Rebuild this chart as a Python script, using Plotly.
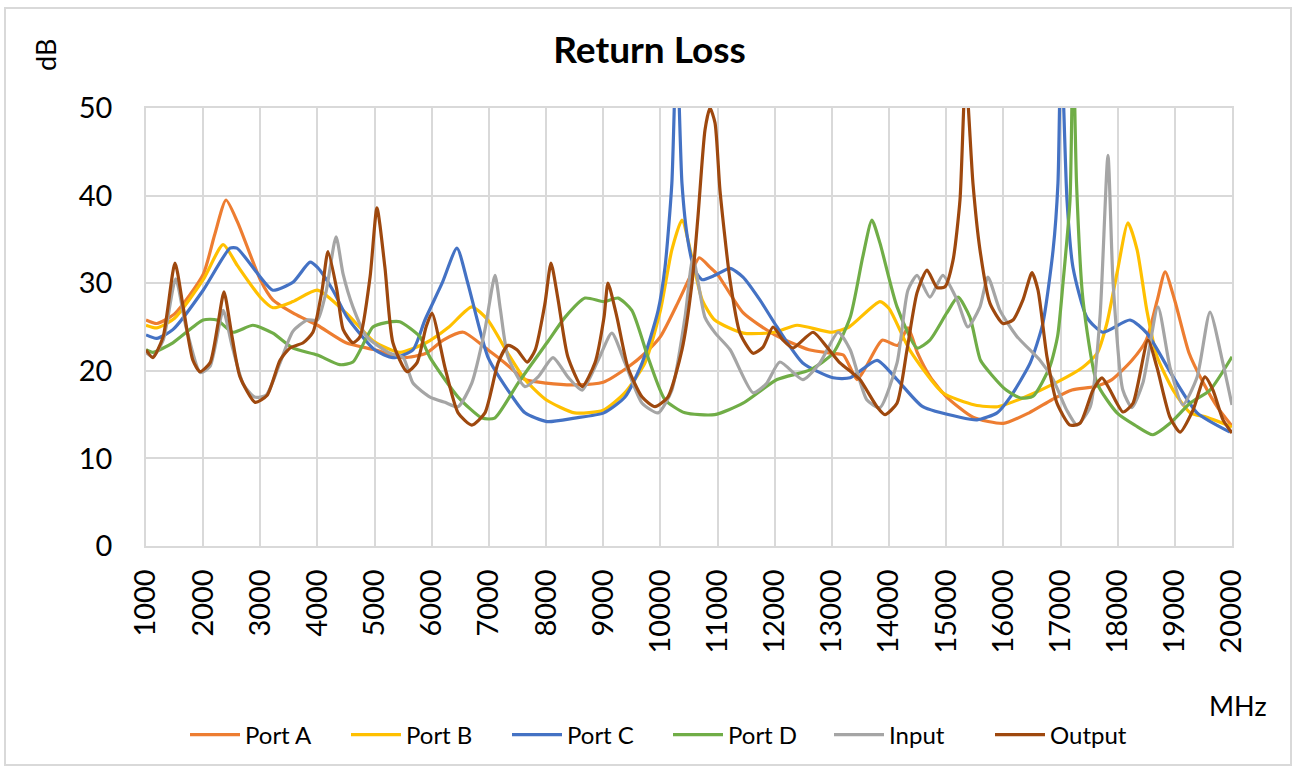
import plotly.graph_objects as go

# ---- data (frequency in MHz, return loss in dB) ----
fA = [1000,1190,1500,2000,2200,2400,2600,3000,3220,3600,
      4000,4500,5000,5500,5900,6200,6550,6980,7280,7630,
      8000,8500,9000,9430,9730,10000,10300,10500,10680,10870,
      11000,11450,12000,12600,13000,13200,13440,13600,13880,14150,
      14330,14500,14720,15010,15470,16000,16450,16850,17200,17600,
      17900,18250,18500,18690,18830,19000,19250,19500,19750,20000]
vA = [25.8,25.4,26.5,31.0,35.5,39.5,37,30.4,28.1,26.5,
      25.2,23.2,22.4,21.5,22,23.5,24.4,22.4,20.9,19,
      18.6,18.4,18.7,20.4,22,23.9,27.7,30.5,32.9,31.8,
      31.0,26.6,24.1,22.4,22,21.8,19,20.5,23.5,22.9,
      24.9,22,19.3,17,14.7,14.0,15.2,16.7,17.8,18.2,
      19,21.2,23.5,28,31.3,28,22,18.6,15.8,13.7]

fB = [1000,1190,1500,2000,2350,2600,3000,3220,3570,4000,
      4500,5000,5440,5900,6300,6700,6980,7330,7630,8000,
      8500,9000,9380,9730,10000,10200,10377,10550,10730,10950,
      11450,12000,12390,13000,13300,13840,14000,14360,14940,15500,
      15900,16340,16940,17390,17640,17810,17990,18180,18340,18510,
      18690,18970,19270,19560,20000]
vB = [25.2,24.9,26,30.4,34.4,32,28.4,27.2,27.9,29.2,
      26.6,23.3,22.1,23.2,25,27.3,25.8,22,19,16.7,
      15.2,15.5,17.5,20.9,26.9,33.8,37.2,33,28.1,25.8,
      24.3,24.4,25.2,24.4,25,27.9,27.1,22.4,17.5,16.1,
      15.9,16.9,18.7,20.4,22,25.4,31.2,36.9,33.8,26.9,
      21.6,17.8,15.2,14.7,13.6]

fC = [1000,1190,1470,2000,2470,2590,3000,3220,3570,3870,
      4000,4270,4520,5000,5320,5670,5880,6180,6440,6630,
      6980,7330,7630,8015,8500,9010,9380,9680,9960,10080,
      10200,10285,10377,10480,10600,10730,10955,11217,11445,
      11740,12040,12490,13020,13320,13790,14140,14590,15240,15540,
      15890,16120,16470,16690,16870,16955,17010,17113,17218,
      17460,17740,18215,18510,18970,19390,19965]
vC = [24.1,23.7,24.7,29.2,34,34,30.7,29.2,30.1,32.4,
      31.8,29.2,26.1,22.4,21.5,22.4,25.8,30,34,30,
      21.6,17.8,15.2,14.2,14.6,15.2,17,20.9,26.9,31.8,
      41.4,58,41.4,34.9,31.5,30.4,30.9,31.7,30.7,
      28.1,25,20.9,19.2,19.2,21.2,19,15.9,14.7,14.4,
      15.2,17,20.9,25.4,33.8,41.4,58,39.5,31.8,
      26.1,24.4,25.8,24.3,19.3,15.2,13]

fD = [1000,1120,1470,2000,2240,2520,2870,3220,3570,4000,
      4390,4620,4970,5200,5440,5790,5970,6460,6880,7100,7510,
      8015,8330,8680,9010,9260,9500,9780,10080,10430,10950,
      11445,12040,12620,13020,13320,13540,13700,13840,14140,14490,
      14715,15010,15206,15416,15600,15800,16050,16300,16520,16815,
      16950,17043,17166,17220,17280,17393,17638,17988,18300,18617,
      18915,19265,19615,20000]
vD = [22.4,22.1,23.2,25.8,25.8,24.4,25.2,24.3,22.6,21.8,
      20.7,21,25,25.5,25.6,23.9,21.5,17,14.6,14.6,18.6,
      23.2,26.1,28.3,27.9,28.3,26.9,21.6,16.7,15.2,15,
      16.3,19,20.1,22,26.1,33,37.2,34.6,27.3,22.6,
      23.5,26.6,28.4,26.1,21.2,19.5,17.8,16.9,17.1,20.5,
      24,30,39.5,58,41.4,28.1,18.6,15.2,13.8,12.7,
      14,16.3,17.8,21.6]

fIn = [1000,1120,1300,1520,1700,1950,2120,2350,2500,2700,
       2900,3100,3350,3570,3820,4000,4150,4325,4450,4620,
       4860,5270,5500,5670,5970,6230,6460,6700,6930,7106,
       7200,7333,7630,7860,8120,8380,8630,8910,9150,9380,
       9680,9960,10200,10430,10570,10780,10960,11220,11620,11850,
       12090,12490,12790,13110,13320,13610,13840,14140,14330,14490,
       14715,14940,15190,15380,15590,15730,15940,16240,16640,16870,
       17110,17290,17520,17690,17830,17920,18090,18250,18440,18705,
       18915,19140,19390,19615,19840,20000]
vIn = [22.1,21.6,23.5,30.5,25,19.8,20.5,26.9,23,18.5,
       17,17.2,21,24.5,25.8,25.8,29,35.3,31,27.3,
       23.9,22,21.5,18.6,17,16.4,15.9,18.6,24.7,30.9,
       27,21.6,18.2,19.3,21.5,19.3,17.8,21.2,24.3,20.9,
       16.3,15.2,17.8,26.1,32.9,26.1,24.3,22.4,17.5,18.5,
       21,19,20.9,24.4,22.4,16.7,15.8,20.9,29.2,30.9,
       28.4,30.9,28.1,25,27.3,30.7,26.9,23.9,21.2,19,
       15.5,13.8,15.9,26.1,44.6,30,17.8,15.8,18.6,27.3,
       20.4,16.1,19.3,26.7,20.9,16.1]

fOut = [1000,1120,1300,1507,1650,1820,1945,2120,2260,2365,
        2505,2645,2910,3120,3345,3520,3750,3920,4080,4184,
        4340,4450,4620,4745,4920,5041,5180,5320,5566,5740,
        5900,6003,6230,6460,6700,6930,7160,7333,7490,7670,
        7810,7980,8086,8210,8380,8630,8855,9013,9083,9240,
        9430,9680,9905,10130,10377,10552,10657,10780,10867,10955,
        11042,11217,11392,11620,11795,11970,12144,12320,12670,12914,
        13141,13369,13491,13789,13929,14139,14314,14489,14664,14839,
        14979,15119,15241,15340,15468,15591,15766,15994,16168,16343,
        16501,16606,16763,16938,17166,17341,17568,17726,17866,18093,
        18268,18530,18687,18915,19090,19317,19527,19667,19843,20000]
vOut = [22.4,21.5,23.9,32.3,27.3,21.2,19.9,20.9,25.4,29,
        23.9,19.3,16.4,17.2,21.2,22.6,23.2,24.4,29.2,33.6,
        29.2,24.7,23.2,23.9,30.7,38.6,31.8,23.2,19.9,20.9,
        25,26.6,20.4,15.2,13.8,15.2,20.9,22.9,22.4,21,
        22.4,27.7,32.3,28.1,21.6,18.2,20.9,26.1,30,26.1,
        20.4,17,15.9,17,22.4,30,37.6,47.5,50,48.3,
        40.6,30.4,24.3,22,22.7,25,23.5,22.6,24.4,22.7,
        20.9,19.7,19,15.9,15,16.3,22.4,28.9,31.5,29.5,
        29.6,32.6,39.5,54,41.4,33.8,27.7,25.4,25.8,28.1,
        31.2,29.2,21.6,16.3,13.8,14,17.8,19.2,17.8,15.3,
        16.3,23.5,20.4,14.7,13,15.5,19.3,17.8,14.4,12.9]

series_names = ["Port A", "Port B", "Port C", "Port D", "Input", "Output"]
series_colors = ["#ED7D31", "#FFC000", "#4472C4", "#70AD47", "#A5A5A5", "#9E480E"]
series_x = [fA, fB, fC, fD, fIn, fOut]
series_y = [vA, vB, vC, vD, vIn, vOut]

x_ticks = list(range(1000, 20001, 1000))
y_ticks = list(range(0, 51, 10))

FONT = "Lato"
GRID = "#D9D9D9"
W, H = 1299, 769
L, R, T, B = 146, 67, 108, 223
PW, PH = W - L - R, H - T - B

def px_x(px):
    return (px - L) / PW

def px_y(py):
    return (H - B - py) / PH

fig = go.Figure()
for name, xs, ys, col in zip(series_names, series_x, series_y, series_colors):
    fig.add_trace(go.Scatter(x=xs, y=ys, mode="lines", name=name,
                             line=dict(color=col, width=3.2, shape="spline", smoothing=0.6)))

fig.update_layout(
    width=W, height=H,
    margin=dict(l=L, r=R, t=T, b=B, autoexpand=False),
    paper_bgcolor="white", plot_bgcolor="white",
    font=dict(family=FONT, color="#000000"),
    title=dict(text="<b>Return Loss</b>", x=0.5, xanchor="center",
               y=1 - 50 / H, yanchor="middle", yref="container",
               font=dict(size=37, family=FONT, color="#000000")),
    showlegend=True,
    legend=dict(orientation="h", x=px_x(668), xanchor="center", y=px_y(735), yanchor="middle",
                font=dict(size=24, family=FONT, color="#000000"),
                itemwidth=50, entrywidth=96, tracegroupgap=0),
    xaxis=dict(range=[1000, 20000], tickvals=x_ticks, ticktext=[str(v) for v in x_ticks],
               tickangle=-90, showgrid=True, gridcolor=GRID, gridwidth=1.5,
               zeroline=False, showline=True, linecolor=GRID, linewidth=1.5, mirror=True,
               automargin=False,
               ticks="", ticklabelstandoff=10, tickfont=dict(size=29, family=FONT, color="#000000")),
    yaxis=dict(range=[0, 50], tickvals=y_ticks, showgrid=True, gridcolor=GRID, gridwidth=1.5,
               zeroline=False, showline=True, linecolor=GRID, linewidth=1.5, mirror=True,
               automargin=False,
               ticks="", ticklabelstandoff=26, tickfont=dict(size=29, family=FONT, color="#000000")),
    annotations=[
        dict(text="dB", xref="paper", yref="paper", x=px_x(45), y=px_y(55),
             showarrow=False, textangle=-90, font=dict(size=27, family=FONT, color="#000000"),
             xanchor="center", yanchor="middle"),
        dict(text="MHz", xref="paper", yref="paper", x=px_x(1238), y=px_y(705),
             showarrow=False, font=dict(size=27, family=FONT, color="#000000"),
             xanchor="center", yanchor="middle"),
    ],
    shapes=[dict(type="rect", xref="paper", yref="paper",
                 x0=px_x(5), x1=px_x(1291), y0=px_y(765), y1=px_y(8),
                 line=dict(color=GRID, width=2), layer="below")],
)

fig.write_html("out.html",
               config={"displayModeBar": False},
               post_script="document.body.style.margin='0';document.body.style.padding='0';")
